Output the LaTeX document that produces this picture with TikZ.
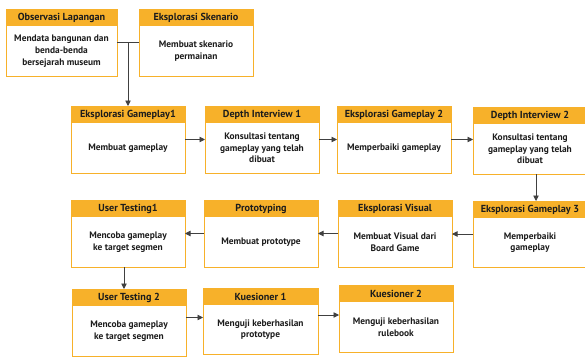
\documentclass[tikz,border=0pt]{standalone}
\usepackage{fontspec}
\setmainfont{PT Sans}
\usetikzlibrary{arrows.meta,calc}
\definecolor{hdr}{HTML}{F7B12A}
\definecolor{txt}{HTML}{1C1C1C}
\definecolor{arrc}{HTML}{404040}
\tikzset{
  stagebox/.style={draw=hdr, line width=0.9pt, fill=white, anchor=north west, inner sep=0pt, outer sep=0pt, minimum width=114pt, minimum height=67pt},
  hdrbar/.style={fill=hdr, anchor=north west, inner sep=0pt, outer sep=0pt, minimum width=114pt, minimum height=17pt, text=txt, font=\fontsize{10.2}{12}\selectfont\bfseries},
  bodytxt/.style={align=center, text=txt, inner sep=0pt, font=\fontsize{9.4}{11.7}\selectfont\bfseries},
  arr/.style={draw=arrc, line width=0.85pt, -{Triangle[length=5.5pt,width=5.5pt]}},
  plain/.style={draw=arrc, line width=0.85pt}
}
\newcommand{\stage}[7]{%
  \node[stagebox, minimum width=#4pt, minimum height=#5pt] (#1) at (#2,#3) {};
  \node[hdrbar, minimum width=#4pt] (#1h) at (#2,#3) {#6};
  \node[bodytxt] (#1b) at ($(#1h.south)!0.5!(#1.south)$) {#7};
}
\begin{document}
\begin{tikzpicture}[x=1pt,y=-1pt]
\useasboundingbox (0,0) rectangle (585,356);
\clip (0,0) rectangle (585,356);
\stage{obs}{6}{9}{111}{67}{Observasi Lapangan}{Mendata bangunan dan\\benda-benda\\bersejarah museum}
\stage{sk}{139}{9}{114}{67}{Eksplorasi Skenario}{Membuat skenario\\permainan}
\stage{ga}{71}{106}{114}{67}{Eksplorasi Gameplay1}{Membuat gameplay}
\stage{da}{205}{106}{114}{67}{Depth Interview 1}{Konsultasi tentang\\gameplay yang telah\\dibuat}
\stage{gb}{337}{106}{114}{67}{Eksplorasi Gameplay 2}{Memperbaiki gameplay}
\stage{db}{473}{107}{114}{67}{Depth Interview 2}{Konsultasi tentang\\gameplay yang telah\\dibuat}
\stage{gc}{473}{201}{114}{66}{Eksplorasi Gameplay 3}{Memperbaiki\\gameplay}
\stage{ev}{338}{200}{114}{67}{Eksplorasi Visual}{Membuat Visual dari\\Board Game}
\stage{pr}{204}{200}{114}{67}{Prototyping}{Membuat prototype}
\stage{ua}{71}{200}{114}{67}{User Testing1}{Mencoba gameplay\\ke target segmen}
\stage{ub}{72}{289}{114}{67}{User Testing 2}{Mencoba gameplay\\ke target segmen}
\stage{ka}{203}{288}{115}{66}{Kuesioner 1}{Menguji keberhasilan\\prototype}
\stage{kb}{339}{285}{114}{67}{Kuesioner 2}{Menguji keberhasilan\\rulebook}
% connectors
\draw[plain] (obs.east) -- (sk.west);
\coordinate (j) at (obs.east -| ga.north);
\draw[arr] (j) -- (ga.north);
\draw[arr] (ga.east) -- (da.west);
\draw[arr] (da.east) -- (gb.west);
\draw[arr] (gb.east) -- (gb.east -| db.west);
\draw[arr] ([xshift=6pt]db.south) -- ([xshift=6pt]db.south |- gc.north);
\draw[arr] (gc.west) -- (gc.west -| ev.east);
\draw[arr] (ev.west) -- (ev.west -| pr.east);
\draw[arr] (pr.west) -- (pr.west -| ua.east);
\draw[arr] ([xshift=-4pt]ua.south) -- ([xshift=-4pt]ua.south |- ub.north);
\draw[arr] ([yshift=5pt]ub.east) -- ([yshift=5pt]ub.east -| ka.west);
\draw[arr] ([yshift=6pt]ka.east) -- ([yshift=6pt]ka.east -| kb.west);
\end{tikzpicture}
\end{document}
